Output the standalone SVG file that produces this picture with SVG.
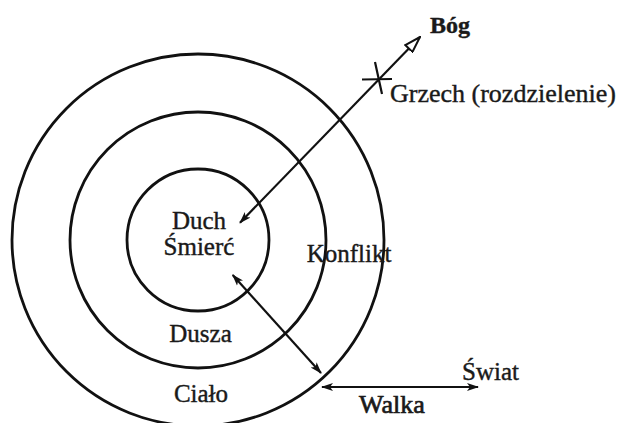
<svg xmlns="http://www.w3.org/2000/svg" width="623" height="423" viewBox="0 0 623 423">
<style>
 .ring{fill:none;stroke:#111;stroke-width:2.8}
 .ln{fill:none;stroke:#111;stroke-width:2.2}
 text{font-family:"Liberation Serif","Times New Roman",serif;font-size:25px;fill:#1a1a1a;stroke:#1a1a1a;stroke-width:0.4}
 .b{font-weight:bold;font-size:24px}
 .w{font-size:26px;stroke-width:0.7}
 .g{font-size:26px}
 .m{text-anchor:middle}
</style>
<defs>
 <marker id="ah" viewBox="0 0 12 10" refX="11" refY="5" markerWidth="12" markerHeight="10" markerUnits="userSpaceOnUse" orient="auto-start-reverse"><path d="M0,1 L12,5 L0,9 L3,5 Z" fill="#111"/></marker>
 <marker id="open" viewBox="0 0 18 12" refX="17" refY="6" markerWidth="18" markerHeight="12" markerUnits="userSpaceOnUse" orient="auto"><path d="M1,1 L17,6 L1,11 Z" fill="#fff" stroke="#111" stroke-width="2"/></marker>
</defs>
<rect width="623" height="423" fill="#fff"/>
<g id="cialo">
 <circle class="ring" cx="198" cy="240" r="186"/>
 <text class="m" x="201" y="402">Ciało</text>
</g>
<g id="dusza">
 <circle class="ring" cx="198" cy="240" r="128"/>
 <text class="m" x="200.5" y="342">Dusza</text>
</g>
<g id="duch">
 <circle class="ring" cx="198" cy="240" r="71"/>
 <text class="m" x="199" y="229">Duch</text>
 <text class="m" x="199" y="255">Śmierć</text>
</g>
<g id="bog"><text class="b" x="430" y="33">Bóg</text></g>
<g id="grzech">
 <path class="ln" d="M362,79.5 L392,79 M375,62 L382,94"/>
 <text class="g" x="390" y="102">Grzech (rozdzielenie)</text>
</g>
<g id="konflikt"><text class="m" x="349" y="262">Konflikt</text></g>
<g id="swiat"><text x="462" y="380">Świat</text></g>
<g id="walka"><text class="m w" x="392" y="413">Walka</text></g>
<g id="connectors">
 <path class="ln" d="M240,222.7 L420,37" marker-start="url(#ah)" marker-end="url(#open)"/>
 <path class="ln" d="M232.7,275 L321,373" marker-start="url(#ah)" marker-end="url(#ah)"/>
 <path class="ln" d="M322,387 L478,387" marker-start="url(#ah)" marker-end="url(#ah)"/>
</g>
</svg>
